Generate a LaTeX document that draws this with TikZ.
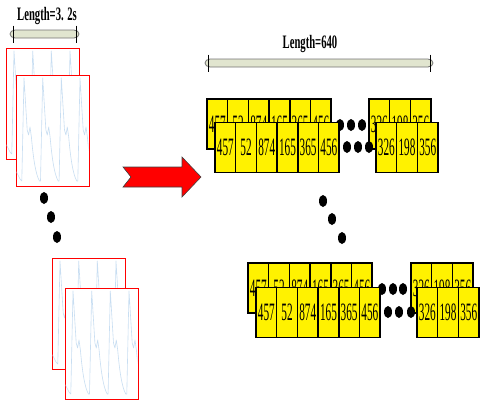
\documentclass[tikz,border=0pt]{standalone}
\usepackage{fontspec}
\usepackage{graphicx}
\setmainfont{Liberation Serif}
\usetikzlibrary{shapes.geometric}

% condensed digits used inside the yellow cells
\newcommand\cellnum[1]{\scalebox{0.45}[1]{#1}}
% condensed bold caption above a dimension bar
\newcommand\barcaption[1]{\scalebox{0.56}[1]{\bfseries #1}}

\tikzset{
  cell/.style={draw=black, line width=1.5pt, fill=yellow, minimum width=20.7pt,
    minimum height=50pt, inner sep=0pt, outer sep=0pt,
    font=\fontsize{25}{25}\selectfont},
  blob/.style={ellipse, fill=black, minimum width=8pt, minimum height=12pt, inner sep=0pt},
  sigframe/.style={draw=red, line width=0.9pt, fill=white, minimum width=73pt,
    minimum height=111pt, inner sep=0pt, outer sep=0pt, anchor=north west},
  trace/.style={draw={rgb,255:red,200;green,222;blue,242}, line width=0.6pt, line join=round},
  barbody/.style={fill={rgb,255:red,225;green,229;blue,207}, draw=black!55, line width=0.8pt},
  bartick/.style={draw=black, line width=1pt},
  caption/.style={font=\fontsize{19}{19}\selectfont, anchor=base, inner sep=0pt},
}

% one row of numbered cells: name prefix, left edge, centre y, values
\newcommand\cellrow[4]{%
  \foreach \v [count=\i] in {#4} {
    \node[cell] (#1-\i) at ({#2+20.7*(\i-0.5)}, #3) {\cellnum{\v}};
  }}

% pulse waveform drawn in the local 73 x 111 box of a frame
\newcommand\pulsetrace{%
  \begin{scope}
    \clip (0.6,0.6) rectangle (72.4,110.4);
    \draw[trace] (0,96) -- (4,104)
      \foreach \p in {8,26.7,45.3,64} {
        -- (\p-2.2,106) -- (\p,3) -- (\p+3.2,55) -- (\p+4.6,60) -- (\p+6,52)
        -- (\p+7.4,62) .. controls (\p+9.5,86) and (\p+12,100) .. (\p+15.5,106)
      };
  \end{scope}}

% frame with its waveform: name, top-left corner
\newcommand\sigpanel[3]{%
  \node[sigframe] (#1) at (#2,#3) {};
  \begin{scope}[shift={(#1.north west)}]
    \pulsetrace
  \end{scope}}

% double-headed dimension bar: left x, right x, centre y
\newcommand\dimbar[3]{%
  \draw[barbody] (#1+5,#3-4) -- (#2-5,#3-4)
    .. controls (#2-2,#3-4) and (#2,#3-2) .. (#2,#3)
    .. controls (#2,#3+2) and (#2-2,#3+4) .. (#2-5,#3+4)
    -- (#1+5,#3+4)
    .. controls (#1+2,#3+4) and (#1,#3+2) .. (#1,#3)
    .. controls (#1,#3-2) and (#1+2,#3-4) .. (#1+5,#3-4) -- cycle;
  \draw[bartick] (#1+3,#3-8.5) -- (#1+3,#3+8.5);
  \draw[bartick] (#2-3,#3-8.5) -- (#2-3,#3+8.5);}

\begin{document}
\begin{tikzpicture}[x=1pt, y=-1pt]
  \useasboundingbox (0,0) rectangle (482,400);

  % ---- left: recorded signal windows ----
  \node[caption] (lenT) at (47,20.7) {\barcaption{Length=3. 2s}};
  \dimbar{10}{79}{34}

  \sigpanel{sigA}{6}{48}
  \sigpanel{sigB}{16}{75}

  \node[blob] (ldA) at (44,198) {};
  \node[blob] (ldB) at (51,217) {};
  \node[blob] (ldC) at (57,237) {};

  \sigpanel{sigC}{52}{258}
  \sigpanel{sigD}{65}{288}

  % ---- conversion arrow ----
  \draw[fill=red, draw=black!75, line width=0.6pt]
    (123,167) -- (182,167) -- (182,157) -- (201,177) -- (182,197)
    -- (182,187) -- (123,187) -- (131,177) -- cycle;

  % ---- right: quantised sequences ----
  \node[caption] (lenN) at (310,48.3) {\barcaption{Length=640}};
  \dimbar{205}{433}{63}

  % first pair of sequences
  \cellrow{ua}{207}{124}{457,52,874,165,365,456}
  \cellrow{ub}{369}{124}{326,198,356}
  \node[blob] (ud1) at (340,125) {};
  \node[blob] (ud2) at (351,125) {};
  \node[blob] (ud3) at (362,125) {};
  \cellrow{va}{215}{147.5}{457,52,874,165,365,456}
  \cellrow{vb}{376}{147.5}{326,198,356}
  \node[blob] (vd1) at (347,147) {};
  \node[blob] (vd2) at (358,147) {};
  \node[blob] (vd3) at (369,147) {};

  % vertical ellipsis between the pairs
  \node[blob] (mdA) at (323,201) {};
  \node[blob] (mdB) at (332,219) {};
  \node[blob] (mdC) at (342,238) {};

  % last pair of sequences
  \cellrow{wa}{248}{288}{457,52,874,165,365,456}
  \cellrow{wb}{411}{288}{326,198,356}
  \node[blob] (wd1) at (382,289) {};
  \node[blob] (wd2) at (393,289) {};
  \node[blob] (wd3) at (403,289) {};
  \cellrow{xa}{256}{312.5}{457,52,874,165,365,456}
  \cellrow{xb}{417}{312.5}{326,198,356}
  \node[blob] (xd1) at (388,312) {};
  \node[blob] (xd2) at (399,312) {};
  \node[blob] (xd3) at (411,312) {};
\end{tikzpicture}
\end{document}
